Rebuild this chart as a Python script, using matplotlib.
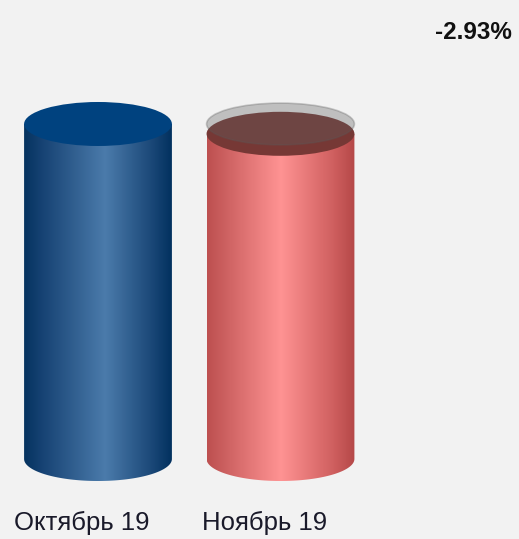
import numpy as np
import matplotlib
matplotlib.use("Agg")
import matplotlib.pyplot as plt
from matplotlib.patches import Ellipse, PathPatch
from matplotlib.path import Path
from matplotlib.colors import to_rgb

# ---- data ----
categories = ["Октябрь 19", "Ноябрь 19"]
values = [100.0, 97.07]
change_label = "-2.93%"

# ---- styling ----
BG = "#f2f2f2"
side_stops = [
    [(0.0, "#05335f"), (0.12, "#164273"), (0.55, "#4b7bab"), (0.85, "#1d4a7a"), (1.0, "#02315f")],
    [(0.0, "#bd5050"), (0.12, "#cc6060"), (0.5, "#ff9393"), (0.85, "#d06060"), (1.0, "#b54848")],
]
top_colors = ["#00427f", "#763835"]

fig = plt.figure(figsize=(5.19, 5.39), dpi=100, facecolor=BG)
ax = fig.add_axes([0, 0, 1, 1])
ax.set_facecolor(BG)
ax.axis("off")

xlim = (-0.537, 2.307)
ylim = (-23.88, 137.01)
half_w = 0.405
px_per_unit_y = 3.35
semi_minor = 22 / px_per_unit_y


def gradient_image(stops, n=256):
    t = np.linspace(0, 1, n)
    pos = [s[0] for s in stops]
    cols = np.array([to_rgb(s[1]) for s in stops])
    img = np.stack([np.interp(t, pos, cols[:, k]) for k in range(3)], axis=-1)
    return img[np.newaxis, :, :]


for i, (v, stops) in enumerate(zip(values, side_stops)):
    xc = i
    theta = np.linspace(np.pi, 2 * np.pi, 80)
    ex = xc + half_w * np.cos(theta)
    ey = semi_minor * np.sin(theta)
    verts = [(xc - half_w, v)] + list(zip(ex, ey)) + [(xc + half_w, v), (xc - half_w, v)]
    codes = [Path.MOVETO] + [Path.LINETO] * (len(verts) - 2) + [Path.CLOSEPOLY]
    clip = PathPatch(Path(verts, codes), facecolor="none", edgecolor="none")
    ax.add_patch(clip)
    im = ax.imshow(gradient_image(stops), extent=(xc - half_w, xc + half_w, -semi_minor - 1, v + 1),
                   aspect="auto", interpolation="bilinear", zorder=2)
    im.set_clip_path(clip)
    ax.add_patch(Ellipse((xc, v), 2 * half_w, 2 * semi_minor, facecolor=top_colors[i],
                         edgecolor="none", zorder=3))

# previous level ghost ellipse on second cylinder
ax.add_patch(Ellipse((1, values[0]), 2 * half_w, 2 * semi_minor * 0.95,
                     facecolor=(0.376, 0.376, 0.376, 0.35),
                     edgecolor=(0.35, 0.35, 0.35, 0.3), linewidth=1.2, zorder=4))

ax.set_xlim(*xlim)
ax.set_ylim(*ylim)

for i, c in enumerate(categories):
    ax.annotate(c, xy=(i, 0), xytext=(-16, -64), textcoords="offset pixels",
                ha="center", va="center", fontsize=18.5, color="#1a1a2a",
                family=["Liberation Sans", "DejaVu Sans"])

ax.text(0.9865, 0.939, change_label, transform=ax.transAxes, ha="right", va="center",
        fontsize=17.5, fontweight="bold", color="#111111",
        family=["Liberation Sans", "DejaVu Sans"])

fig.savefig("out.png", dpi=100, facecolor=BG)
